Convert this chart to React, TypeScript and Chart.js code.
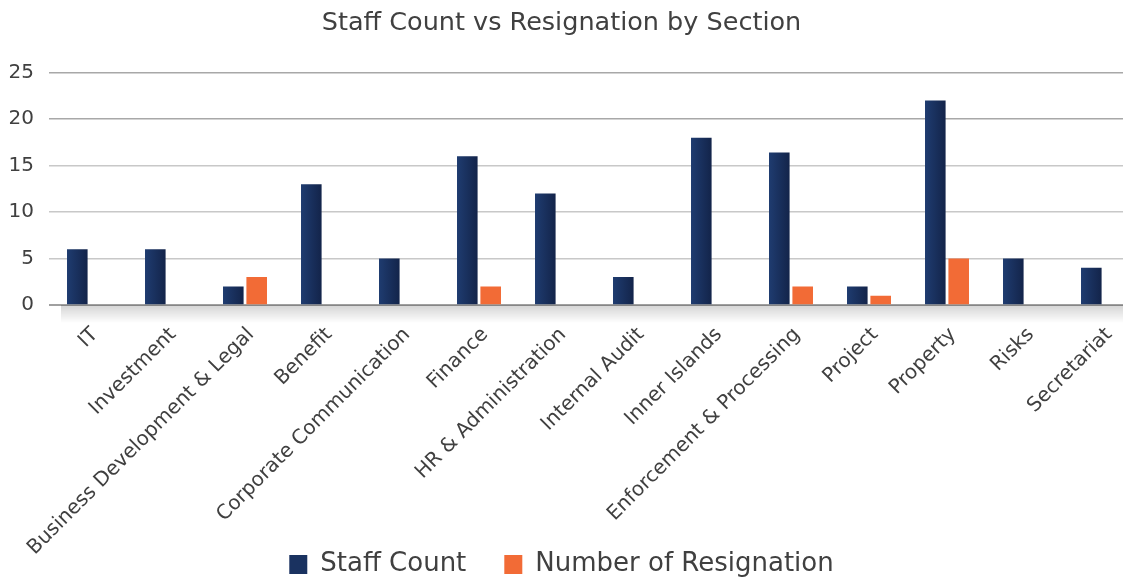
import React, { useEffect, useRef } from "react";
import { Chart, registerables } from "chart.js";

Chart.register(...registerables);

const categories = [
  "IT",
  "Investment",
  "Business Development & Legal",
  "Benefit",
  "Corporate Communication",
  "Finance",
  "HR & Administration",
  "Internal Audit",
  "Inner Islands",
  "Enforcement & Processing",
  "Project",
  "Property",
  "Risks",
  "Secretariat",
];
const staffCount = [6, 6, 2, 13, 5, 16, 12, 3, 18, 16.4, 2, 22, 5, 4];
const resignations = [0, 0, 3, 0, 0, 2, 0, 0, 0, 2, 1, 5, 0, 0];
const yTicks = [0, 5, 10, 15, 20, 25];

const FONT = "'DejaVu Sans', sans-serif";
const TEXT = "#404040";
const NAVY = "#1a3260";
const ORANGE = "#f26b36";

const effectsPlugin = {
  id: "effects",
  afterLayout(chart: any) {
    // the category axis runs a little past the right edge, as in the reference
    const xs = chart.scales.x;
    xs.left = 50;
    xs.right = 50 + 78 * categories.length;
    xs.width = xs.right - xs.left;
    xs.configure();
    xs._labelItems = null;
    xs._computeLabelArea = () => undefined;
  },
  beforeDatasetsDraw(chart: any) {
    const { ctx, chartArea } = chart;
    // soft shadow under the baseline
    const g = ctx.createLinearGradient(0, chartArea.bottom, 0, chartArea.bottom + 18);
    g.addColorStop(0, "rgba(0,0,0,0.17)");
    g.addColorStop(1, "rgba(0,0,0,0)");
    ctx.save();
    ctx.fillStyle = g;
    ctx.fillRect(chartArea.left + 12, chartArea.bottom, chartArea.right - chartArea.left - 12, 18);
    ctx.restore();
    // horizontal gradient on navy bars
    const meta = chart.getDatasetMeta(0);
    meta.data.forEach((el: any) => {
      const p = el.getProps(["x", "width"], true);
      const lg = ctx.createLinearGradient(p.x - p.width / 2, 0, p.x + p.width / 2, 0);
      lg.addColorStop(0, "#1f3c70");
      lg.addColorStop(1, "#13244a");
      el.options = { ...el.options, backgroundColor: lg };
    });
  },
};

export default function App() {
  const ref = useRef<HTMLCanvasElement>(null);
  useEffect(() => {
    document.body.style.margin = "0";
    const chart = new Chart(ref.current!, {
      type: "bar",
      data: {
        labels: categories,
        datasets: [
          {
            label: "Staff Count",
            data: staffCount,
            backgroundColor: NAVY,
            categoryPercentage: 0.6,
            barPercentage: 0.88,
          },
          {
            label: "Number of Resignation",
            data: resignations,
            backgroundColor: ORANGE,
            categoryPercentage: 0.6,
            barPercentage: 0.88,
          },
        ],
      },
      options: {
        animation: false,
        responsive: false,
        maintainAspectRatio: false,
        layout: { padding: { left: 0, right: 0, top: 0, bottom: -8.5 } },
        plugins: {
          title: {
            display: true,
            text: "Staff Count vs Resignation by Section",
            color: TEXT,
            font: { family: FONT, size: 25.5, weight: "normal" },
            padding: { top: 8, bottom: 34 },
          },
          legend: {
            position: "bottom",
            labels: {
              color: TEXT,
              font: { family: FONT, size: 26 },
              boxWidth: 18,
              boxHeight: 19,
              padding: 38,
            },
          },
          tooltip: { enabled: false },
        },
        scales: {
          x: {
            grid: { display: false },
            border: { display: true, color: "#a0a0a0", width: 2 },
            ticks: {
              color: TEXT,
              font: { family: FONT, size: 20 },
              minRotation: 45,
              maxRotation: 45,
              autoSkip: false,
              padding: 10,
              labelOffset: 6,
            },
            afterFit: (scale: any) => {
              scale.height = 208.5;
            },
          },
          y: {
            min: 0,
            max: 25,
            afterBuildTicks: (axis: any) => {
              axis.ticks = yTicks.map((v) => ({ value: v }));
            },
            afterFit: (scale: any) => {
              scale.width = 49;
            },
            grid: {
              color: (c: any) => (c.tick && c.tick.value >= 20 ? "#a8a8a8" : "#c8c8c8"),
              lineWidth: 1.5,
              drawTicks: false,
            },
            border: { display: false },
            ticks: {
              color: TEXT,
              font: { family: FONT, size: 20 },
              padding: 15,
            },
          },
        },
      },
      plugins: [effectsPlugin],
    });
    return () => chart.destroy();
  }, []);
  return <canvas ref={ref} width={1123} height={579} style={{ display: "block" }} />;
}
